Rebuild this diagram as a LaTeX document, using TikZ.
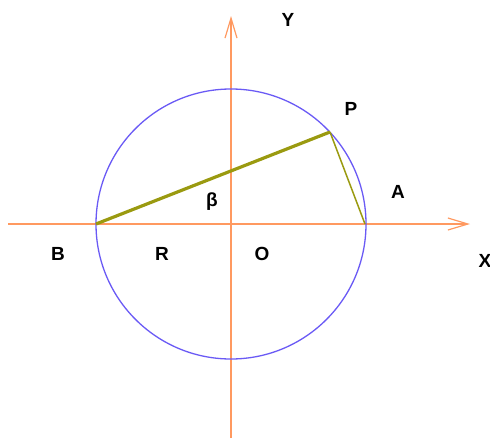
\documentclass[tikz,border=0pt]{standalone}
\usepackage{fontspec}
\setmainfont{Liberation Sans}
\usetikzlibrary{arrows.meta}
\definecolor{axisc}{HTML}{FF9960}
\definecolor{circc}{HTML}{6A5AF5}
\definecolor{chordc}{HTML}{9A9A10}
\tikzset{
  axis/.style={draw=axisc, line width=1.6pt, -{Straight Barb[length=20pt,width=12pt,line width=1.2pt]}},
  lbl/.style={font=\bfseries\fontsize{19}{21}\selectfont, inner sep=0pt}
}
\begin{document}
\begin{tikzpicture}[x=1pt,y=-1pt]
\useasboundingbox (0,0) rectangle (490,439);
\coordinate (O) at (231,224);
\coordinate (xl) at (8,224);
\coordinate (xr) at (470,224);
\coordinate (yb) at (231,438);
\coordinate (yt) at (231,16);
\coordinate (B) at (96,224);
\coordinate (A) at (365,224);
\coordinate (P) at (330,132);
\draw[axis] (xl) -- (xr);
\draw[axis] (yb) -- (yt);
\draw[circc, line width=1.3pt] (O) circle[radius=135];
\draw[chordc, line width=3.2pt] (B) -- (P);
\draw[chordc, line width=1.5pt] (P) -- (A);
\node[lbl] (lY) at (288,20) {Y};
\node[lbl] (lP) at (351,109) {P};
\node[lbl] (lA) at (398,192) {A};
\node[lbl] (lX) at (485,261) {X};
\node[lbl] (lB) at (58,254) {B};
\node[lbl] (lR) at (162,254) {R};
\node[lbl] (lO) at (262,254) {O};
\node[lbl] (lb) at (212,202) {β};
\end{tikzpicture}
\end{document}
